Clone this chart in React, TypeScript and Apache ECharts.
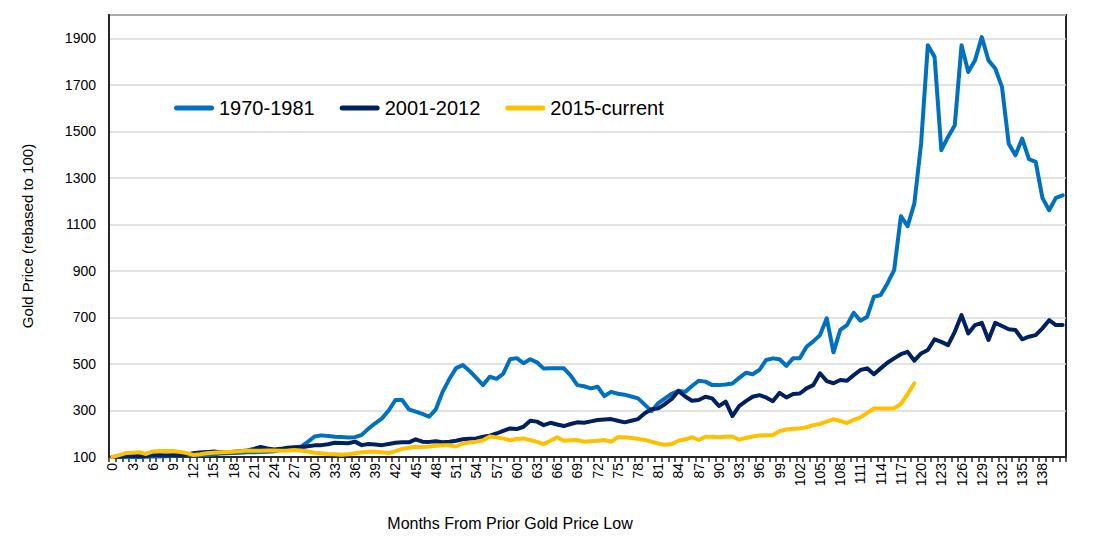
import React, { useEffect, useRef } from "react";
import * as echarts from "echarts";

const months: string[] = Array.from({ length: 142 }, (_, i) => String(i));

const series1970: number[] = [
  100, 100, 101, 100, 100, 101, 102, 102, 103, 104, 106, 107, 107, 108, 109, 111, 115, 116, 117, 118,
  120, 120, 122, 123, 125, 131, 137, 140, 145, 165, 188, 193, 190, 187, 186, 184, 185, 195, 222, 245,
  266, 300, 345, 345, 305, 295, 285, 273, 305, 380, 435, 482, 495, 470, 440, 409, 445, 436, 458, 520,
  525, 503, 520, 507, 480, 481, 481, 481, 450, 409, 404, 395, 402, 362, 380, 372, 368, 360, 352, 325,
  297, 332, 352, 372, 385, 380, 405, 428, 424, 409, 409, 412, 416, 440, 462, 456, 474, 517, 524, 520,
  492, 524, 524, 574, 597, 624, 696, 550, 646, 667, 720, 686, 703, 789, 796, 846, 903, 1135, 1092, 1190,
  1447, 1870, 1820, 1419, 1476, 1526, 1870, 1755, 1805, 1905, 1805, 1770, 1691, 1447, 1397, 1469, 1380, 1369, 1214, 1161,
  1214, 1225,
];

const series2001: number[] = [
  100, 101, 104, 104, 103, 104, 108, 108, 106, 107, 108, 110, 116, 119, 121, 124, 121, 120, 123, 125,
  128, 135, 143, 137, 132, 135, 140, 142, 142, 146, 150, 151, 155, 161, 160, 159, 166, 151, 156, 154,
  151, 156, 161, 163, 163, 176, 166, 165, 168, 163, 166, 170, 176, 178, 180, 187, 192, 201, 212, 223,
  220, 230, 256, 252, 237, 247, 240, 233, 242, 249, 247, 253, 259, 261, 263, 256, 249, 256, 263, 288,
  305, 309, 328, 350, 384, 360, 342, 345, 359, 352, 319, 338, 276, 319, 340, 359, 366, 356, 340, 376,
  356, 371, 373, 395, 409, 460, 426, 417, 431, 428, 452, 474, 481, 456, 481, 505, 524, 542, 552, 514,
  545, 560, 606, 595, 581, 638, 710, 631, 667, 677, 603, 677, 663, 649, 646, 606, 617, 624, 653, 688,
  667, 667,
];

const series2015: number[] = [
  100, 108, 117, 118, 121, 113, 124, 126, 126, 126, 122, 117, 109, 112, 116, 118, 120, 122, 123, 125,
  128, 127, 127, 128, 128, 127, 128, 130, 128, 124, 118, 116, 113, 112, 110, 112, 116, 120, 123, 123,
  120, 117, 125, 135, 140, 144, 143, 145, 148, 151, 150, 145, 158, 162, 166, 172, 188, 184, 180, 172,
  177, 180, 173, 165, 156, 170, 185, 170, 172, 173, 166, 168, 170, 173, 166, 185, 185, 182, 178, 173,
  166, 158, 153, 156, 170, 176, 185, 173, 187, 187, 185, 187, 188, 174, 182, 188, 192, 194, 194, 212,
  218, 221, 223, 228, 237, 242, 252, 262, 255, 246, 260, 270, 290, 309, 309, 309, 310, 328, 370, 417,
];

const seriesNames = ["1970-1981", "2001-2012", "2015-current"];
const seriesColors = ["#0070C0", "#002060", "#FFC000"];

const FONT = "'Liberation Sans', Arial, sans-serif";

export default function App() {
  const ref = useRef<HTMLDivElement>(null);

  useEffect(() => {
    if (!ref.current) return;
    const chart = echarts.init(ref.current, undefined, { renderer: "svg" });
    const datasets = [series1970, series2001, series2015];
    chart.setOption({
      animation: false,
      backgroundColor: "#ffffff",
      textStyle: { fontFamily: FONT },
      grid: {
        left: 109,
        right: 47,
        top: 15,
        bottom: 84,
        show: true,
        borderColor: "#262626",
        borderWidth: 2,
      },
      legend: {
        left: 174,
        top: 98,
        padding: 0,
        itemWidth: 40,
        itemHeight: 5,
        itemGap: 25,
        icon: "path://M2.5,0 L37.5,0 A2.5,2.5 0 0 1 37.5,5 L2.5,5 A2.5,2.5 0 0 1 2.5,0 Z",
        textStyle: { fontSize: 20, color: "#000", fontFamily: FONT },
        data: seriesNames,
      },
      xAxis: {
        type: "category",
        data: months,
        boundaryGap: true,
        axisLine: { show: true, lineStyle: { color: "#262626", width: 2 } },
        axisTick: { show: true, interval: 0, length: 5, lineStyle: { color: "#262626", width: 1.5 } },
        axisLabel: {
          interval: (index: number) => index % 3 === 0 && index <= 138,
          rotate: 90,
          fontSize: 14,
          color: "#000",
          fontFamily: FONT,
          margin: 6,
        },
        splitLine: { show: false },
      },
      yAxis: {
        type: "value",
        min: 100,
        max: 2000,
        interval: 200,
        name: "Gold Price (rebased to 100)",
        nameLocation: "middle",
        nameGap: 74,
        nameTextStyle: { fontSize: 15, color: "#000", fontFamily: FONT },
        axisLine: { show: true, lineStyle: { color: "#262626", width: 2 } },
        axisTick: { show: false },
        axisLabel: {
          showMaxLabel: false,
          fontSize: 14,
          color: "#000",
          margin: 13,
          fontFamily: FONT,
          formatter: (v: number) => String(v),
        },
        splitLine: { show: true, lineStyle: { color: "#d9d9d9", width: 1.5 } },
      },
      graphic: [
        {
          type: "text",
          x: 510,
          y: 523,
          style: {
            text: "Months From Prior Gold Price Low",
            fontSize: 16,
            fontFamily: FONT,
            fill: "#000",
            align: "center",
            verticalAlign: "middle",
          },
        },
      ],
      series: datasets.map((d, i) => ({
        name: seriesNames[i],
        type: "line",
        data: d,
        showSymbol: false,
        symbol: "none",
        itemStyle: { color: seriesColors[i] },
        lineStyle: { color: seriesColors[i], width: 4, cap: "round", join: "round" },
      })),
    });
    return () => chart.dispose();
  }, []);

  return (
    <div
      ref={ref}
      style={{ position: "absolute", left: 0, top: 0, width: 1113, height: 541 }}
    />
  );
}
